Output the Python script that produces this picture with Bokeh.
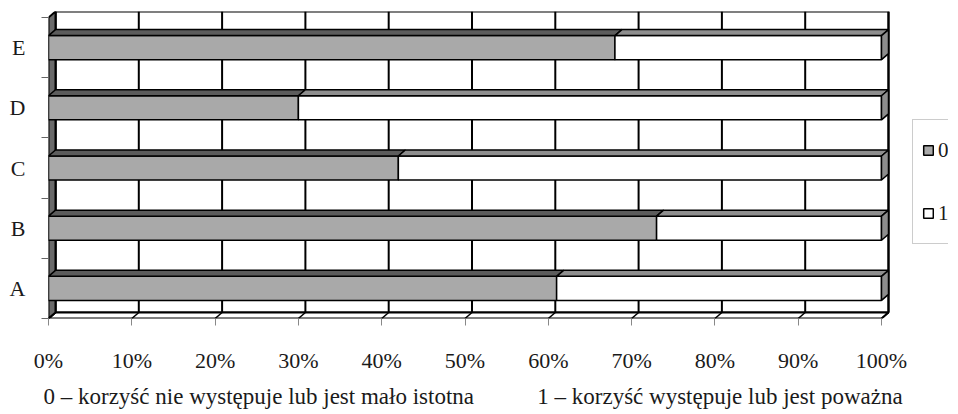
from bokeh.plotting import figure
from bokeh.models import Range1d, FixedTicker, Legend, LegendItem, PrintfTickFormatter, Title
from bokeh.embed import file_html
from bokeh.resources import INLINE

# ---- data ----
categories = ["A", "B", "C", "D", "E"]
series_names = ["0", "1"]
share_0 = [61, 73, 42, 30, 68]          # % answering "0"
share_1 = [39, 27, 58, 70, 32]          # % answering "1"
x_ticks = [0, 10, 20, 30, 40, 50, 60, 70, 80, 90, 100]
caption_0 = "0 – korzyść nie występuje lub jest mało istotna"
caption_1 = "1 – korzyść występuje lub jest poważna"

# ---- style / geometry ----
FONT = "Liberation Serif"
TXT = "#1a1a1a"
DX, DY = 0.84, 0.10      # 3-D depth offset (data units)
H = 0.20                 # half bar height
GRAY = "#a9a9a9"
GRAY_TOP = "#5c5c5c"
WHITE_TOP = "#8e8e8e"
WALL = "#6a6a6a"
NB = "\u00a0"
PX_PER_PCT = 8.33

y_pos = [i + 1 for i in range(len(categories))]

p = figure(frame_width=900, frame_height=307, output_backend="svg", toolbar_location=None,
           x_range=Range1d(0, 900 / PX_PER_PCT), y_range=Range1d(0.5, 5.6),
           min_border_left=48, min_border_right=0, min_border_top=11, min_border_bottom=86)
p.outline_line_color = None
p.xgrid.visible = False
p.ygrid.visible = False
p.background_fill_color = "white"
p.border_fill_color = "white"

# back wall
p.quad(left=[DX], right=[100 + DX], bottom=[0.5 + DY], top=[5.5 + DY],
       fill_color="white", line_color="black", line_width=2)
# back wall vertical gridlines
p.segment(x0=[t + DX for t in x_ticks], y0=[0.5 + DY] * len(x_ticks),
          x1=[t + DX for t in x_ticks], y1=[5.5 + DY] * len(x_ticks),
          line_color="black", line_width=2)
# floor
p.patch(x=[0, 100, 100 + DX, DX], y=[0.5, 0.5, 0.5 + DY, 0.5 + DY],
        fill_color="white", line_color="black", line_width=2)
p.segment(x0=x_ticks, y0=[0.5] * len(x_ticks), x1=[t + DX for t in x_ticks],
          y1=[0.5 + DY] * len(x_ticks), line_color="black", line_width=1.5)
# left wall
p.patch(x=[0, DX, DX, 0], y=[0.5, 0.5 + DY, 5.5 + DY, 5.5],
        fill_color=WALL, line_color="black", line_width=2)

# bars: front faces
r0 = p.quad(left=[0] * len(y_pos), right=share_0,
            bottom=[y - H for y in y_pos], top=[y + H for y in y_pos],
            fill_color=GRAY, line_color="black", line_width=1.5)
r1 = p.quad(left=share_0, right=[a + b for a, b in zip(share_0, share_1)],
            bottom=[y - H for y in y_pos], top=[y + H for y in y_pos],
            fill_color="white", line_color="black", line_width=1.5)
# top faces
p.patches(xs=[[0, v, v + DX, DX] for v in share_0],
          ys=[[y + H, y + H, y + H + DY, y + H + DY] for y in y_pos],
          fill_color=GRAY_TOP, line_color="black", line_width=1.5)
p.patches(xs=[[a, a + b, a + b + DX, a + DX] for a, b in zip(share_0, share_1)],
          ys=[[y + H, y + H, y + H + DY, y + H + DY] for y in y_pos],
          fill_color=WHITE_TOP, line_color="black", line_width=1.5)
# right side faces
p.patches(xs=[[a + b, a + b + DX, a + b + DX, a + b] for a, b in zip(share_0, share_1)],
          ys=[[y - H, y - H + DY, y + H + DY, y + H] for y in y_pos],
          fill_color=WHITE_TOP, line_color="black", line_width=1.5)

# axes
xa = p.xaxis[0]
xa.ticker = FixedTicker(ticks=x_ticks, minor_ticks=[])
xa.formatter = PrintfTickFormatter(format="%d%%")
xa.axis_line_color = None
xa.major_tick_line_color = "#888888"
xa.major_tick_out = 7
xa.major_tick_in = 0
xa.major_label_standoff = 22
xa.major_label_text_font = FONT
xa.major_label_text_font_size = "22px"
xa.major_label_text_color = TXT

ya = p.yaxis[0]
ya.ticker = FixedTicker(ticks=y_pos, minor_ticks=[y - 0.5 for y in y_pos] + [5.5])
ya.major_label_overrides = {y: c for y, c in zip(y_pos, categories)}
ya.axis_line_color = None
ya.major_tick_line_color = None
ya.major_tick_out = 0
ya.major_tick_in = 0
ya.minor_tick_line_color = "#666666"
ya.minor_tick_out = 7
ya.minor_tick_in = 0
ya.major_label_standoff = 16
ya.major_label_text_font = FONT
ya.major_label_text_font_size = "22px"
ya.major_label_text_color = TXT

# caption below the axis
p.add_layout(Title(text=caption_0 + NB * 11 + caption_1, align="left", offset=-5,
                   standoff=12, text_font=FONT, text_font_size="23px",
                   text_font_style="normal", text_color=TXT), "below")

# legend
legend = Legend(items=[LegendItem(label=series_names[0], renderers=[r0]),
                       LegendItem(label=series_names[1], renderers=[r1])],
                location=(864, 74), orientation="vertical",
                label_text_font=FONT, label_text_font_size="21px", label_text_color=TXT,
                glyph_width=12, glyph_height=12, label_height=42, spacing=21,
                padding=9, margin=0, label_standoff=4,
                border_line_color="#9a9a9a", border_line_width=1,
                background_fill_color="white", background_fill_alpha=1)
p.add_layout(legend, "center")

open("out.html", "w").write(file_html(p, INLINE))
